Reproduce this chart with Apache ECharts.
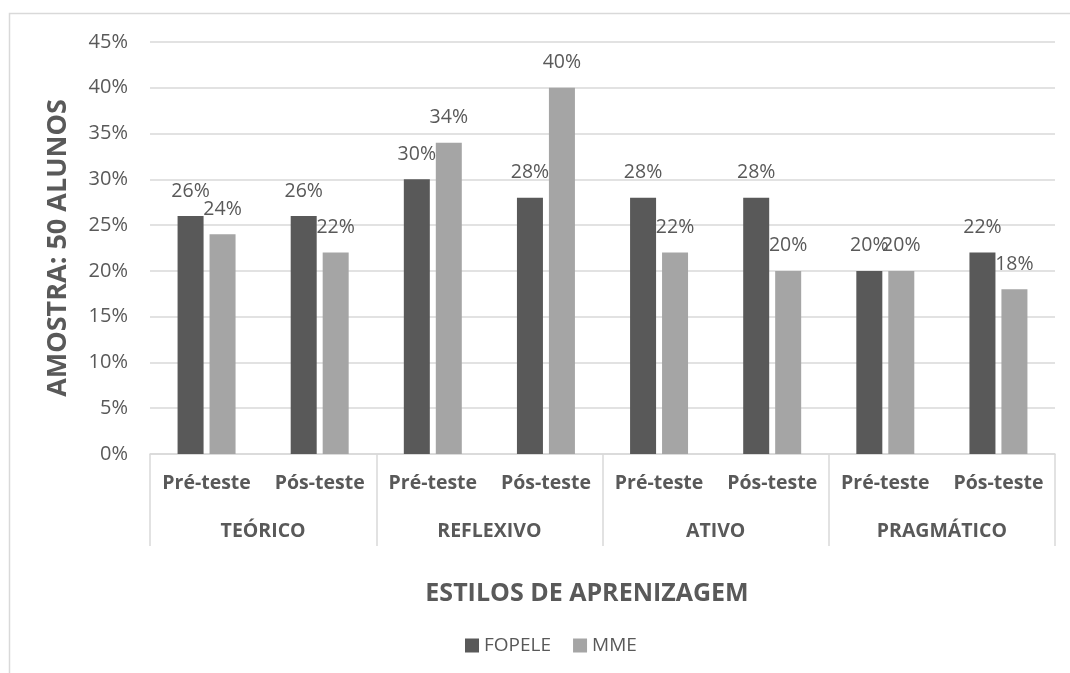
<!DOCTYPE html>
<html><head><meta charset="utf-8">
<script src="https://cdn.jsdelivr.net/npm/echarts@6/dist/echarts.min.js"></script>
<style>html,body{margin:0;padding:0;background:#fff}#c{width:1070px;height:673px}</style>
</head><body><div id="c"></div>
<script>
const testTypes = ['Pré-teste','Pós-teste','Pré-teste','Pós-teste','Pré-teste','Pós-teste','Pré-teste','Pós-teste'];
const styles = ['TEÓRICO','REFLEXIVO','ATIVO','PRAGMÁTICO'];
const fopele = [26, 26, 30, 28, 28, 28, 20, 22];
const mme = [24, 22, 34, 40, 22, 20, 20, 18];
const yTicks = [0,5,10,15,20,25,30,35,40,45];
const FONT = 'Open Sans';
const TXT = '#595959';
const chart = echarts.init(document.getElementById('c'));
const lbl = {show:true, position:'top', distance:15, formatter:'{c}%', color:TXT, fontFamily:FONT, fontSize:19.5};
chart.setOption({
  animation:false,
  textStyle:{fontFamily:FONT},
  graphic:[{type:'rect', shape:{x:9.5,y:13.5,width:1200,height:800}, style:{fill:'none', stroke:'#d9d9d9', lineWidth:1.5}, silent:true}],
  title:{text:'ESTILOS DE APRENIZAGEM', left:582, top:576, textAlign:'center',
    textStyle:{fontFamily:FONT, fontSize:25, fontWeight:'bold', color:TXT}},
  legend:{top:631, left:460, itemWidth:14, itemHeight:14, itemGap:22, icon:'rect',
    textStyle:{fontFamily:FONT, fontSize:19, color:TXT}},
  grid:{left:150, right:15, top:42, bottom:219},
  xAxis:[
    {type:'category', data:testTypes, position:'bottom',
     axisLine:{show:true, lineStyle:{color:'#d9d9d9', width:1.5}},
     axisTick:{show:false},
     axisLabel:{color:TXT, fontFamily:FONT, fontSize:19.5, fontWeight:'bold', margin:19, interval:0}},
    {type:'category', data:styles, position:'bottom',
     axisLine:{show:false},
     axisTick:{show:true, length:92, lineStyle:{color:'#d9d9d9', width:1.5}},
     axisLabel:{color:TXT, fontFamily:FONT, fontSize:19.5, fontWeight:'bold', margin:67, interval:0}}
  ],
  yAxis:{type:'value', min:yTicks[0], max:yTicks[yTicks.length-1], interval:5,
    name:'AMOSTRA: 50 ALUNOS', nameLocation:'middle', nameGap:78, nameRotate:90,
    nameTextStyle:{fontFamily:FONT, fontSize:27, fontWeight:'bold', color:TXT},
    axisLine:{show:false}, axisTick:{show:false},
    axisLabel:{formatter:'{value}%', color:TXT, fontFamily:FONT, fontSize:20, margin:22},
    splitLine:{lineStyle:{color:'#d9d9d9', width:1.5}}},
  series:[
    {name:'FOPELE', type:'bar', data:fopele, barWidth:26, barGap:'23%', itemStyle:{color:'#595959'}, label:lbl},
    {name:'MME', type:'bar', data:mme, barWidth:26, barGap:'23%', itemStyle:{color:'#a5a5a5'}, label:lbl}
  ]
});
</script></body></html>
